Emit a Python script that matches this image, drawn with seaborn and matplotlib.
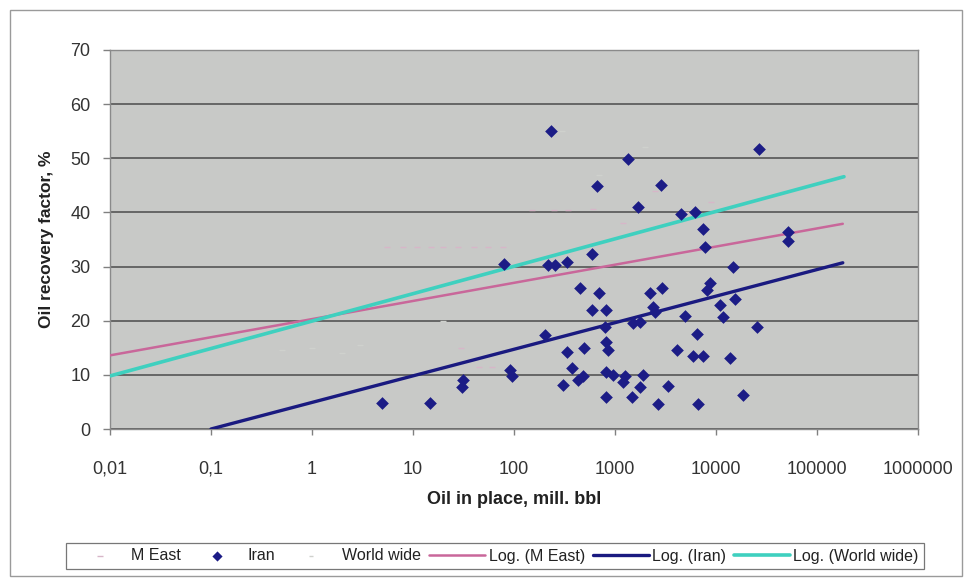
import matplotlib
matplotlib.use("Agg")
import matplotlib.pyplot as plt
import seaborn as sns
import pandas as pd
from matplotlib.patches import Rectangle

# ---------------- data ----------------
iran_x = [4.9, 14.7, 31.5, 30.3, 91, 95, 80, 231, 219, 255, 337, 596, 668, 450, 699, 588, 815,
          203, 796, 333, 493, 815, 859, 372, 479, 433, 308, 815, 962, 815, 1355, 26850, 2834,
          1702, 4467, 6194, 7482, 7780, 52000, 52000, 14830, 2893, 2222, 2399, 2490, 8730, 8090,
          15420, 10970, 11810, 4930, 1517, 1770, 25650, 6440, 4083, 5960, 7482, 13770, 1256,
          1208, 1905, 1770, 3373, 1462, 2685, 6680, 18620]
iran_y = [4.8, 4.8, 9.05, 7.8, 10.9, 9.8, 30.4, 55.1, 30.3, 30.3, 30.9, 32.3, 44.9, 26.0, 25.2,
          21.9, 21.9, 17.4, 18.9, 14.3, 14.9, 16.1, 14.6, 11.2, 9.7, 9.1, 8.1, 10.6, 10.0, 5.9,
          49.8, 51.8, 45.1, 41.0, 39.8, 40.0, 36.9, 33.6, 36.3, 34.8, 29.9, 26.0, 25.2, 22.6,
          21.7, 26.9, 25.7, 24.1, 22.9, 20.7, 20.9, 19.5, 19.8, 18.9, 17.5, 14.6, 13.5, 13.4,
          13.1, 9.7, 8.7, 10.0, 7.8, 7.9, 6.0, 4.7, 4.7, 6.3]

# faint (barely visible) series
meast_x = [5.5, 8, 11, 15, 20, 28, 40, 55, 78, 150, 250, 340, 45, 60, 30, 600, 1200, 2500, 5000, 9000]
meast_y = [33.7, 33.7, 33.7, 33.7, 33.7, 33.7, 33.7, 33.7, 33.7, 40.5, 40.5, 40.5, 11.5, 11.5, 15.0,
           40.6, 38.0, 44.0, 40.0, 42.0]
world_x = [0.5, 1, 2, 3, 300, 700, 20, 2000]
world_y = [14.5, 15.0, 14.0, 15.5, 55.0, 47.0, 20.0, 52.0]

# logarithmic trend lines (end points)
trend_meast_x = [0.01, 180000]
trend_meast_y = [13.6, 37.9]
trend_iran_x = [0.1, 180000]
trend_iran_y = [0.0, 30.7]
trend_world_x = [0.01, 185000]
trend_world_y = [9.8, 46.6]

xtick_vals = [0.01, 0.1, 1, 10, 100, 1000, 10000, 100000, 1000000]
xtick_labels = ["0,01", "0,1", "1", "10", "100", "1000", "10000", "100000", "1000000"]
ytick_vals = [0, 10, 20, 30, 40, 50, 60, 70]

# ---------------- style ----------------
sns.set_style("white")
plt.rcParams["font.family"] = ["Liberation Sans", "DejaVu Sans"]

fig = plt.figure(figsize=(9.73, 5.78), dpi=100)
fig.patch.set_facecolor("white")
ax = fig.add_axes([110 / 973, (578 - 429) / 578, (918 - 110) / 973, (429 - 50) / 578])
ax.set_facecolor("#c8c9c7")

ax.set_xscale("log")
ax.set_xlim(0.01, 1000000)
ax.set_ylim(0, 70)

# grid
ax.set_yticks(ytick_vals)
ax.yaxis.grid(True, color="#666666", linewidth=1.4)
ax.xaxis.grid(False)
ax.set_axisbelow(True)

df_me = pd.DataFrame({"x": meast_x, "y": meast_y})
df_ww = pd.DataFrame({"x": world_x, "y": world_y})
df_ir = pd.DataFrame({"x": iran_x, "y": iran_y})

sns.scatterplot(data=df_me, x="x", y="y", ax=ax, marker="_", s=25, color="#d7b6c8",
                linewidth=1.0, label="M East", zorder=2)
sns.scatterplot(data=df_ir, x="x", y="y", ax=ax, marker="D", s=42, color="#1c1c86",
                edgecolor="#1c1c86", linewidth=0, label="Iran", zorder=4)
sns.scatterplot(data=df_ww, x="x", y="y", ax=ax, marker="_", s=20, color="#cfd1cd",
                linewidth=1.0, label="World wide", zorder=2)

sns.lineplot(x=trend_meast_x, y=trend_meast_y, ax=ax, color="#c9679a", linewidth=1.8,
             label="Log. (M East)", zorder=3)
sns.lineplot(x=trend_iran_x, y=trend_iran_y, ax=ax, color="#1a1a80", linewidth=2.4,
             label="Log. (Iran)", zorder=3)
sns.lineplot(x=trend_world_x, y=trend_world_y, ax=ax, color="#3fd0bf", linewidth=2.6,
             label="Log. (World wide)", zorder=3)

ax.set_xlim(0.01, 1000000)
ax.set_ylim(0, 70)
ax.set_xticks(xtick_vals)
ax.set_xticklabels(xtick_labels)
ax.xaxis.set_minor_locator(matplotlib.ticker.NullLocator())
ax.set_yticks(ytick_vals)
ax.set_yticklabels([str(v) for v in ytick_vals])

ax.tick_params(axis="x", which="major", direction="out", length=4, width=1, color="#808080",
               pad=19, labelsize=13, labelcolor="#333333", bottom=True)
ax.tick_params(axis="y", which="major", direction="out", length=5, width=1, color="#808080",
               pad=9, labelsize=13, labelcolor="#333333", left=True)

for side in ["left", "bottom", "top", "right"]:
    ax.spines[side].set_color("#8a8a8a")
    ax.spines[side].set_linewidth(1.0)

ax.set_xlabel("Oil in place, mill. bbl", fontsize=13, fontweight="bold", color="#222222")
ax.xaxis.set_label_coords(0.5, (429 - 500) / 379)
ax.xaxis.label.set_verticalalignment("center")
ax.set_ylabel("Oil recovery factor, %", fontsize=12.5, fontweight="bold", color="#222222")
ax.yaxis.set_label_coords((47 - 110) / 808, 0.5)
ax.yaxis.label.set_verticalalignment("center")

handles, labels = ax.get_legend_handles_labels()
if ax.get_legend() is not None:
    ax.get_legend().remove()
leg = fig.legend(handles, labels, loc="center", bbox_to_anchor=(495 / 973, (578 - 556) / 578),
                 ncol=6, fontsize=11.5, frameon=True, fancybox=False, edgecolor="#555555",
                 handlelength=3.5, handletextpad=0.2, columnspacing=0.5, borderpad=0.35,
                 markerscale=0.8)
leg.get_frame().set_linewidth(0.9)
for t in leg.get_texts():
    t.set_color("#222222")

# outer chart border
fig.patches.append(Rectangle((10 / 973, 2 / 578), 952 / 973, 566 / 578, transform=fig.transFigure,
                             fill=False, edgecolor="#9a9a9a", linewidth=1.0))

fig.savefig("out.png", dpi=100)
